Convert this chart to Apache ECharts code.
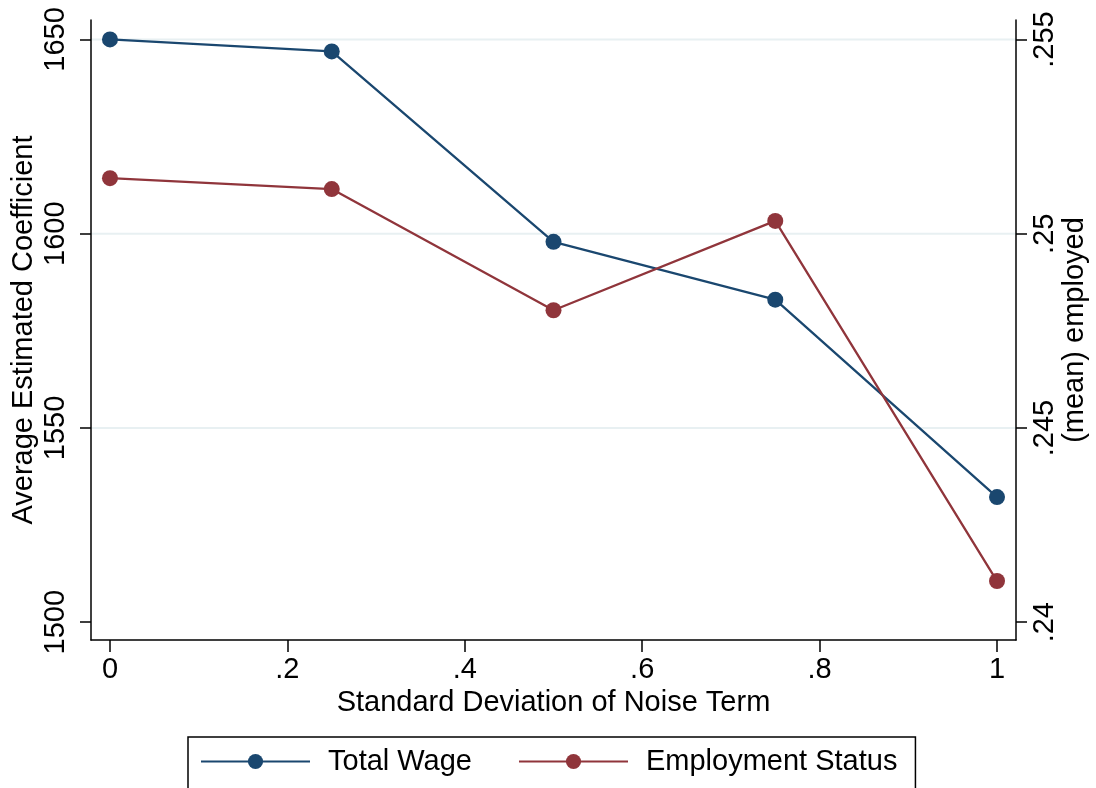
<!DOCTYPE html>
<html>
<head>
<meta charset="utf-8">
<script src="https://cdn.jsdelivr.net/npm/echarts@6/dist/echarts.min.js"></script>
<style>
html,body{margin:0;padding:0;background:#fff;}
#c{width:1096px;height:788px;}
</style>
</head>
<body>
<div id="c"></div>
<script>
const xValues = [0, 0.25, 0.5, 0.75, 1];
const totalWage = [1650.0, 1646.9, 1597.9, 1583.0, 1532.2];
const employmentStatus = [0.25143, 0.25115, 0.24803, 0.25033, 0.24106];
const xTicks = [0, 0.2, 0.4, 0.6, 0.8, 1];
const xTickLabels = ['0', '.2', '.4', '.6', '.8', '1'];
const leftTicks = [1500, 1550, 1600, 1650];
const leftTickLabels = ['1500', '1550', '1600', '1650'];
const rightTicks = [0.24, 0.245, 0.25, 0.255];
const rightTickLabels = ['.24', '.245', '.25', '.255'];
const gridLineValues = [1550, 1600, 1650];
const seriesNames = ['Total Wage', 'Employment Status'];

const FONT = '"Liberation Sans", Arial, Helvetica, sans-serif';
const FS = 29;
const NAVY = '#1a476f';
const MAROON = '#90353b';

function lookup(ticks, labels) {
  return function (v) {
    for (let i = 0; i < ticks.length; i++) {
      if (Math.abs(ticks[i] - v) < 1e-9) return labels[i];
    }
    return '';
  };
}

const chart = echarts.init(document.getElementById('c'), null, {renderer: 'canvas'});
chart.setOption({
  animation: false,
  backgroundColor: '#ffffff',
  textStyle: {fontFamily: FONT, color: '#000'},
  grid: {left: 91, right: 80, top: 20, bottom: 148, containLabel: false, outerBoundsMode: 'none'},
  legend: {
    left: 188,
    top: 737,
    data: seriesNames,
    itemWidth: 109,
    itemHeight: 19,
    itemGap: 46,
    borderColor: '#000',
    borderWidth: 1.5,
    borderRadius: 0,
    padding: [10, 18, 24, 12],
    textStyle: {fontFamily: FONT, fontSize: FS, color: '#000', padding: [0, 0, 0, 13]}
  },
  xAxis: {
    type: 'value',
    min: -0.0214,
    max: 1.0214,
    name: 'Standard Deviation of Noise Term',
    nameLocation: 'middle',
    nameGap: 46,
    nameTextStyle: {fontFamily: FONT, fontSize: FS, color: '#000'},
    axisLine: {show: true, onZero: false, lineStyle: {color: '#000', width: 1.5}},
    axisTick: {show: true, length: 12, customValues: xTicks, lineStyle: {color: '#000', width: 1.5}},
    axisLabel: {customValues: xTicks, formatter: lookup(xTicks, xTickLabels), fontSize: FS, color: '#000', fontFamily: FONT, margin: 15},
    splitLine: {show: false}
  },
  yAxis: [
    {
      type: 'value',
      position: 'left',
      min: 1495.4,
      max: 1655.0,
      name: 'Average Estimated Coefficient',
      nameLocation: 'middle',
      nameRotate: 90,
      nameGap: 53,
      nameMoveOverlap: false,
      nameTextStyle: {fontFamily: FONT, fontSize: FS, color: '#000'},
      axisLine: {show: true, onZero: false, lineStyle: {color: '#000', width: 1.5}},
      axisTick: {show: true, length: 11, customValues: leftTicks, lineStyle: {color: '#000', width: 1.5}},
      axisLabel: {customValues: leftTicks, formatter: lookup(leftTicks, leftTickLabels), rotate: 90, fontSize: FS, color: '#000', fontFamily: FONT, margin: 21},
      splitLine: {show: false}
    },
    {
      type: 'value',
      position: 'right',
      min: 0.239542,
      max: 0.255502,
      name: '(mean) employed',
      nameLocation: 'middle',
      nameRotate: 90,
      nameGap: 44,
      nameMoveOverlap: false,
      nameTextStyle: {fontFamily: FONT, fontSize: FS, color: '#000'},
      axisLine: {show: true, onZero: false, lineStyle: {color: '#000', width: 1.5}},
      axisTick: {show: true, length: 11, customValues: rightTicks, lineStyle: {color: '#000', width: 1.5}},
      axisLabel: {customValues: rightTicks, formatter: lookup(rightTicks, rightTickLabels), rotate: 90, fontSize: FS, color: '#000', fontFamily: FONT, margin: 14},
      splitLine: {show: false}
    }
  ],
  series: [
    {
      name: '__grid',
      type: 'custom',
      yAxisIndex: 0,
      silent: true,
      z: 0,
      data: gridLineValues.map(v => [0, v]),
      renderItem: function (params, api) {
        const cs = params.coordSys;
        const y = api.coord([0, api.value(1)])[1];
        return {
          type: 'line',
          shape: {x1: cs.x, y1: y, x2: cs.x + cs.width, y2: y},
          style: {stroke: '#e8f0f2', lineWidth: 2}
        };
      }
    },
    {
      name: seriesNames[0],
      type: 'line',
      yAxisIndex: 0,
      data: xValues.map((x, i) => [x, totalWage[i]]),
      symbol: 'circle',
      symbolSize: 16,
      itemStyle: {color: NAVY},
      lineStyle: {color: NAVY, width: 2.3},
      z: 3
    },
    {
      name: seriesNames[1],
      type: 'line',
      yAxisIndex: 1,
      data: xValues.map((x, i) => [x, employmentStatus[i]]),
      symbol: 'circle',
      symbolSize: 16,
      itemStyle: {color: MAROON},
      lineStyle: {color: MAROON, width: 2.3},
      z: 3
    }
  ]
});
</script>
</body>
</html>
